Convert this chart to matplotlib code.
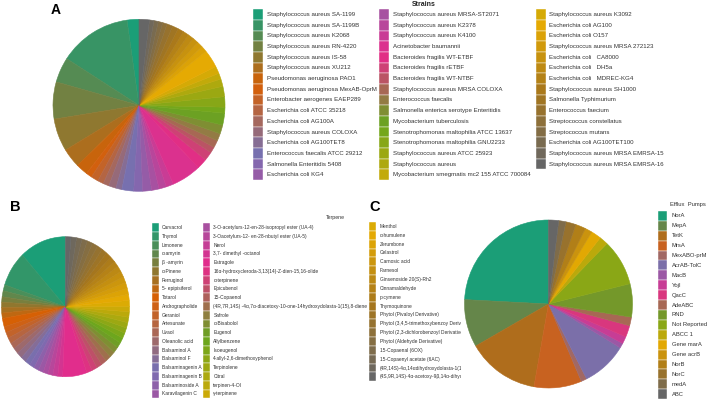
import numpy as np
import matplotlib.pyplot as plt
from matplotlib.colors import to_rgb
from matplotlib.patches import Rectangle
from matplotlib.transforms import Bbox, TransformedBbox

plt.rcParams['font.family'] = ['Liberation Sans', 'DejaVu Sans']

W, H = 708, 401

# ---- panel A: strains ----
strains = [
    "Staphylococcus aureus SA-1199", "Staphylococcus aureus SA-1199B",
    "Staphylococcus aureus K2068", "Staphylococcus aureus RN-4220",
    "Staphylococcus aureus IS-58", "Staphylococcus aureus XU212",
    "Pseudomonas aeruginosa PAO1", "Pseudomonas aeruginosa MexAB-OprM",
    "Enterobacter aerogenes EAEP289", "Escherichia coli ATCC 35218",
    "Escherichia coli AG100A", "Staphylococcus aureus COLOXA",
    "Escherichia coli AG100TET8", "Enterococcus faecalis ATCC 29212",
    "Salmonella Enteritidis 5408", "Escherichia coli KG4",
    "Staphylococcus aureus MRSA-ST2071", "Staphylococcus aureus K2378",
    "Staphylococcus aureus K4100", "Acinetobacter baumannii",
    "Bacteroides fragilis WT-ETBF", "Bacteroides fragilis rETBF",
    "Bacteroides fragilis WT-NTBF", "Staphylococcus aureus MRSA COLOXA",
    "Enterococcus faecalis", "Salmonella enterica serotype Enteritidis",
    "Mycobacterium tuberculosis", "Stenotrophomonas maltophilia ATCC 13637",
    "Stenotrophomonas maltophilia GNU2233", "Staphylococcus aureus ATCC 25923",
    "Staphylococcus aureus", "Mycobacterium smegmatis mc2 155 ATCC 700084",
    "Staphylococcus aureus K3092", "Escherichia coli AG100",
    "Escherichia coli O157", "Staphylococcus aureus MRSA 272123",
    "Escherichia coli   CA8000", "Escherichia coli   DH5a",
    "Escherichia coli   MDREC-KG4", "Staphylococcus aureus SH1000",
    "Salmonella Typhimurium", "Enterococcus faecium",
    "Streptococcus constellatus", "Streptococcus mutans",
    "Escherichia coli AG100TET100", "Staphylococcus aureus MRSA EMRSA-15",
    "Staphylococcus aureus MRSA EMRSA-16",
]
strain_vals = [8, 49, 17, 25, 22, 13, 8, 4, 5, 4, 4, 5, 4, 8, 6, 6,
               5, 5, 5, 20, 7, 6, 4, 5, 5, 6, 8, 4, 7, 7, 5, 4,
               5, 12, 4, 4, 4, 4, 4, 4, 4, 4, 3, 3, 3, 3, 7]

# ---- panel B: terpenes ----
terpenes = [
    "Carvacrol", "Thymol", "Limonene", "α-amyrin", "β -amyrin", "α-Pinene",
    "Ferruginol", "5- epipisiferol", "Totarol", "Andrographolide", "Geraniol",
    "Artesunate", "Uvaol", "Oleanolic acid", "Balsaminol A", "Balsaminol F",
    "Balsaminagenin A", "Balsaminagenin B", "Balsaminoside A", "Karavilagenin C",
    "3-O-acetylurs-12-en-28-isopropyl ester (UA-4)",
    "3-Oacetylurs-12- en-28-nbutyl ester (UA-5)", "Nerol",
    "3,7- dimethyl -octanol", "Estragole",
    "16α-hydroxycleroda-3,13(14)-Z-dien-15,16-olide", "α-terpinene",
    "Epicubenol", "15-Copaenol",
    "(4R,7R,14S) -4α,7α-diacetoxy-10-one-14hydroxydolasta-1(15),8-diene",
    "Safrole", "α-Bisabolol", "Eugenol", "Allylbenzene", "Isoeugenol",
    "4-allyl-2,6-dimethoxyphenol", "Terpinolene", "Citral", "terpinen-4-Ol",
    "γ-terpinene",
    "Menthol", "α-humulene", "Zerumbone", "Celastrol", "Carnosic acid",
    "Farnesol", "Ginsenoside 20(S)-Rh2", "Cinnamaldehyde", "p-cymene",
    "Thymoquinone", "Phytol (Pivaloyl Derivative)",
    "Phytol (3,4,5-trimethoxybenzoy Deriva",
    "Phytol (2,3-dichlorobenzoyl Derivative", "Phytol (Aldehyde Derivative)",
    "15-Copaenal (6OX)", "15-Copaenyl acetate (6AC)",
    "(4R,14S)-4α,14αdihydroxydolasta-1(1",
    "(4S,9R,14S)-4α-acetoxy-9β,14α-dihyc",
]
terpene_vals = [42.5, 29.5, 5, 5, 4.5, 4.5, 4.5, 4.5, 7, 5, 5, 5, 5, 5, 5, 5,
                4.5, 4.5, 4.5, 4.5,
                4.5, 4.5, 4.5, 4.5, 22, 5, 5, 5, 5, 5, 5, 5,
                4.5, 4.5, 4.5, 4.5, 4.5, 4.5, 4.5, 4.5,
                5, 5, 5, 5, 5, 5, 5, 5, 5, 5, 5, 5, 5, 5, 5, 5, 5, 5]

# ---- panel C: efflux pumps ----
pumps = ["NorA", "MepA", "TetK", "MrsA", "MexABO-prM", "AcrAB-TolC", "MacB",
         "YojI", "QacC", "AdeABC", "RND", "Not Reported", "ABCC 1", "Gene marA",
         "Gene acrB", "NorB", "NorC", "medA", "ABC"]
pump_vals = [87, 33, 50, 33, 4, 31.6, 3.4, 5, 8, 6, 23, 32, 6, 7, 5, 7, 7, 5, 7]

dark2 = ['#1B9E77', '#D95F02', '#7570B3', '#E7298A',
         '#66A61E', '#E6AB02', '#A6761D', '#666666']


def ramp(n):
    rgb = np.array([to_rgb(c) for c in dark2])
    knots = np.arange(len(dark2))
    pos = np.linspace(0, len(dark2) - 1, n)
    return [tuple(np.interp(p, knots, rgb[:, k]) for k in range(3)) for p in pos]


def fx(px):
    return px / W


def fy(py):
    return 1 - py / H


fig = plt.figure(figsize=(7.08, 4.01), dpi=100)


def pie_panel(cx, cy, rx, ry, vals, cols):
    ax = fig.add_axes([fx(cx - rx), fy(cy + ry), 2 * rx / W, 2 * ry / H])
    wedges, _ = ax.pie(vals, colors=cols, startangle=90, counterclock=True,
                       radius=1, wedgeprops=dict(linewidth=0.4))
    for w in wedges:
        w.set_edgecolor(w.get_facecolor())
    ax.set_xlim(-1, 1)
    ax.set_ylim(-1, 1)
    ax.set_aspect('auto')
    ax.axis('off')


def key_column(labels, cols, kx, ky, kw, kh, tx, fs, clip_x=None):
    for i, (lab, col) in enumerate(zip(labels, cols)):
        y = ky + i * kh
        fig.add_artist(Rectangle((fx(kx), fy(y + kh)), kw / W, kh / H,
                                 transform=fig.transFigure, facecolor=col,
                                 edgecolor='white', linewidth=0.3))
        t = fig.text(fx(tx), fy(y + kh / 2), lab, fontsize=fs, va='center',
                     ha='left', color='#333333')
        if clip_x is not None:
            t.set_clip_box(TransformedBbox(Bbox([[0, 0], [fx(clip_x), 1]]),
                                           fig.transFigure))
            t.set_clip_on(True)


colA = ramp(len(strains))
colB = ramp(len(terpenes))
colC = ramp(len(pumps))

pie_panel(139, 105.3, 86, 86, strain_vals, colA)
pie_panel(65.5, 306.7, 64, 70, terpene_vals, colB)
pie_panel(548.5, 304, 84, 84, pump_vals, colC)

# legend A
key_column(strains[:16], colA[:16], 253.3, 9.3, 10, 10.67, 266.7, 4.4)
key_column(strains[16:32], colA[16:32], 379.3, 9.3, 10, 10.67, 393.3, 4.4)
key_column(strains[32:], colA[32:], 535.7, 9.3, 10, 10.67, 549, 4.4)
fig.text(fx(424), fy(4), "Strains", fontsize=5, ha='center', va='center',
         fontweight='bold', color='#222222')

# legend B (third column partly hidden behind panel C)
key_column(terpenes[:20], colB[:20], 151.7, 223.3, 7, 8.75, 161.7, 3.5)
key_column(terpenes[20:40], colB[20:40], 203.3, 223.3, 7, 8.75, 213.3, 3.5)
key_column(terpenes[40:], colB[40:], 369.3, 222, 7, 8.85, 380, 3.5, clip_x=461)
fig.text(fx(335), fy(217.5), "Terpene", fontsize=3.8, ha='center', va='center',
         color='#333333')

# legend C
key_column(pumps, colC, 658, 211, 9, 9.9, 671.7, 4.2)
fig.text(fx(688), fy(204.5), "Efflux  Pumps", fontsize=4.2, ha='center',
         va='center', color='#333333')

# panel letters
fig.text(fx(55.3), fy(10.5), "A", fontsize=10, fontweight='bold', ha='center', va='center')
fig.text(fx(15), fy(206.7), "B", fontsize=10.5, fontweight='bold', ha='center', va='center')
fig.text(fx(375), fy(206.7), "C", fontsize=10.5, fontweight='bold', ha='center', va='center')

fig.savefig("out.png", dpi=100, facecolor='white')
